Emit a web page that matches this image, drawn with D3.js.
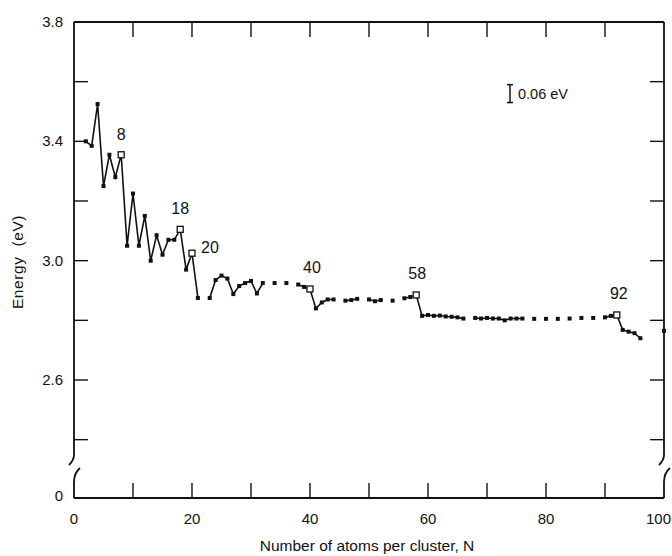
<!DOCTYPE html>
<html>
<head>
<meta charset="utf-8">
<script src="https://cdn.jsdelivr.net/npm/d3@7"></script>
<style>
  body { margin: 0; background: #fff; }
  text { font-family: "Liberation Sans", Arial, sans-serif; fill: #111; }
</style>
</head>
<body>
<div id="chart_area"></div>
<script>
// Cluster sizes and energies (null = no measurement)
var sizes = d3.range(2, 101);
var energies = [
  3.40, 3.385, 3.525, 3.25, 3.355, 3.28, 3.355, 3.05, 3.225,        // 2-10
  3.05, 3.15, 3.00, 3.085, 3.02, 3.07, 3.07, 3.105, 2.97, 3.025,     // 11-20
  2.875, null, 2.875, 2.935, 2.95, 2.94, 2.888, 2.915, 2.925, 2.932, // 21-30
  2.89, 2.925, null, 2.925, null, 2.925, null, 2.92, 2.912, 2.905,   // 31-40
  2.84, 2.86, 2.87, 2.87, null, 2.866, 2.868, 2.872, null, 2.87,     // 41-50
  2.864, 2.868, null, 2.866, null, 2.874, 2.878, 2.885, 2.815, 2.818,// 51-60
  2.815, 2.816, 2.813, 2.812, 2.81, 2.806, null, 2.808, 2.806, 2.808,// 61-70
  2.806, 2.806, 2.80, 2.806, 2.806, 2.806, null, 2.805, null, 2.805, // 71-80
  null, 2.805, null, 2.806, null, 2.808, null, 2.808, null, 2.81,    // 81-90
  2.815, 2.818, 2.768, 2.762, 2.757, 2.74, null, null, null, 2.765   // 91-100
];
var magicNumbers = [8, 18, 20, 40, 58, 92];
var xTicks = [0, 20, 40, 60, 80, 100];
var yLabels = [3.8, 3.4, 3.0, 2.6];
var yMinorTicks = [3.6, 3.4, 3.2, 3.0, 2.8, 2.6, 2.4];

var points = sizes.map(function(n, i) { return {n: n, e: energies[i]}; });

var frame_width = 672, frame_height = 556;
var svg = d3.select("#chart_area").append("svg")
    .attr("width", frame_width)
    .attr("height", frame_height);

// Frame edges
var plotLeft = 74, plotRight = 664, plotTop = 22, plotBottom = 498;

// Scales
var xScale = d3.scaleLinear().domain([0, 100]).range([plotLeft, plotRight]);
var yScale = d3.scaleLinear().domain([2.6, 3.8]).range([380, plotTop]);

var axisColor = "#111";

// Frame top
svg.append("line")
    .attr("x1", plotLeft).attr("x2", plotRight)
    .attr("y1", plotTop).attr("y2", plotTop)
    .attr("stroke", axisColor).attr("stroke-width", 1.8);

// Frame bottom (zero line)
svg.append("line")
    .attr("x1", plotLeft).attr("x2", plotRight)
    .attr("y1", plotBottom).attr("y2", plotBottom)
    .attr("stroke", axisColor).attr("stroke-width", 1.8);

// Left and right sides with axis breaks
[plotLeft, plotRight].forEach(function(xx) {
  svg.append("path")
      .attr("d", "M" + xx + "," + plotTop + " L" + xx + ",455 Q" + xx + ",460 " + (xx - 5) + ",465")
      .attr("fill", "none").attr("stroke", axisColor).attr("stroke-width", 1.8);
  svg.append("path")
      .attr("d", "M" + (xx + 6) + ",468 Q" + xx + ",473 " + xx + ",482 L" + xx + "," + plotBottom)
      .attr("fill", "none").attr("stroke", axisColor).attr("stroke-width", 1.8);
});

// Top and bottom ticks
var xt = d3.range(10, 100, 10);
svg.selectAll(".ttick").data(xt).enter().append("line")
    .attr("x1", function(d) { return xScale(d); })
    .attr("x2", function(d) { return xScale(d); })
    .attr("y1", plotTop).attr("y2", plotTop + 15)
    .attr("stroke", axisColor).attr("stroke-width", 1.4);
svg.selectAll(".btick").data(xt).enter().append("line")
    .attr("x1", function(d) { return xScale(d); })
    .attr("x2", function(d) { return xScale(d); })
    .attr("y1", plotBottom).attr("y2", plotBottom - 15)
    .attr("stroke", axisColor).attr("stroke-width", 1.4);

// Left and right ticks
svg.selectAll(".ltick").data(yMinorTicks).enter().append("line")
    .attr("x1", plotLeft).attr("x2", plotLeft + 14)
    .attr("y1", function(d) { return yScale(d); })
    .attr("y2", function(d) { return yScale(d); })
    .attr("stroke", axisColor).attr("stroke-width", 1.4);
svg.selectAll(".rtick").data(yMinorTicks).enter().append("line")
    .attr("x1", plotRight).attr("x2", plotRight - 14)
    .attr("y1", function(d) { return yScale(d); })
    .attr("y2", function(d) { return yScale(d); })
    .attr("stroke", axisColor).attr("stroke-width", 1.4);

// Tick labels (last one kept inside the page edge)
svg.selectAll(".xlab").data(xTicks).enter().append("text")
    .attr("x", function(d) { return d === 100 ? 671 : xScale(d); })
    .attr("y", 524)
    .attr("text-anchor", function(d) { return d === 100 ? "end" : "middle"; })
    .attr("font-size", 15)
    .text(function(d) { return d; });
svg.selectAll(".ylab").data(yLabels).enter().append("text")
    .attr("x", 63)
    .attr("y", function(d) { return yScale(d) + 5; })
    .attr("text-anchor", "end")
    .attr("font-size", 15)
    .text(function(d) { return d.toFixed(1); });
svg.append("text")
    .attr("x", 63).attr("y", 501)
    .attr("text-anchor", "end")
    .attr("font-size", 15)
    .text("0");

// Axis titles
svg.append("text")
    .attr("x", 367).attr("y", 551)
    .attr("text-anchor", "middle")
    .attr("font-size", 15.5)
    .text("Number of atoms per cluster, N");
svg.append("text")
    .attr("transform", "translate(23,262) rotate(-90)")
    .attr("text-anchor", "middle")
    .attr("font-size", 15.5)
    .attr("letter-spacing", 0.6)
    .attr("xml:space", "preserve")
    .text("Energy  (eV)");

// Data line
var line = d3.line()
    .defined(function(d) { return d.e !== null; })
    .x(function(d) { return xScale(d.n); })
    .y(function(d) { return yScale(d.e); });
svg.append("path")
    .datum(points)
    .attr("d", line)
    .attr("fill", "none")
    .attr("stroke", "#111")
    .attr("stroke-width", 1.6);

// Small filled markers
var valid = points.filter(function(d) { return d.e !== null && magicNumbers.indexOf(d.n) < 0; });
svg.selectAll(".dot").data(valid).enter().append("rect")
    .attr("x", function(d) { return xScale(d.n) - 2; })
    .attr("y", function(d) { return yScale(d.e) - 2; })
    .attr("width", 4).attr("height", 4)
    .attr("fill", "#111");

// Open squares at shell closures
var magic = points.filter(function(d) { return magicNumbers.indexOf(d.n) >= 0; });
svg.selectAll(".magic").data(magic).enter().append("rect")
    .attr("x", function(d) { return xScale(d.n) - 3; })
    .attr("y", function(d) { return yScale(d.e) - 3; })
    .attr("width", 6).attr("height", 6)
    .attr("fill", "#fff")
    .attr("stroke", "#111").attr("stroke-width", 1.3);

// Magic number labels
var labelOffset = {8: [0, -15], 18: [0, -15], 20: [18, 0], 40: [2, -16], 58: [1, -16], 92: [2, -16]};
svg.selectAll(".mlab").data(magic).enter().append("text")
    .attr("x", function(d) { return xScale(d.n) + labelOffset[d.n][0]; })
    .attr("y", function(d) { return yScale(d.e) + labelOffset[d.n][1]; })
    .attr("text-anchor", "middle")
    .attr("font-size", 16)
    .text(function(d) { return d.n; });

// Scale bar 0.06 eV
var barTop = yScale(3.59), barBot = yScale(3.53);
var barX = 510;
svg.append("line").attr("x1", barX).attr("x2", barX).attr("y1", barTop).attr("y2", barBot)
    .attr("stroke", "#111").attr("stroke-width", 1.5);
svg.append("line").attr("x1", barX - 3).attr("x2", barX + 3).attr("y1", barTop).attr("y2", barTop)
    .attr("stroke", "#111").attr("stroke-width", 1.5);
svg.append("line").attr("x1", barX - 3).attr("x2", barX + 3).attr("y1", barBot).attr("y2", barBot)
    .attr("stroke", "#111").attr("stroke-width", 1.5);
svg.append("text")
    .attr("x", barX + 8).attr("y", (barTop + barBot) / 2 + 5)
    .attr("font-size", 14.5)
    .text("0.06 eV");
</script>
</body>
</html>
